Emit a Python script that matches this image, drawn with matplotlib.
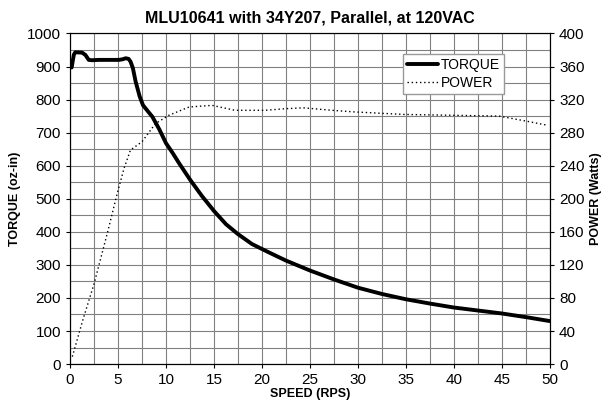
import matplotlib.pyplot as plt
from matplotlib.ticker import MultipleLocator

plt.rcParams['font.family'] = ['Liberation Sans', 'DejaVu Sans']

# torque curve (oz-in) vs speed (rps)
torque_speed = [0.17, 0.3, 0.4, 0.55, 1.26, 1.6, 1.95, 2.3, 3.0, 4.0, 5.1, 5.5, 5.8,
                6.1, 6.3, 6.55, 6.83, 7.25, 7.6, 8.1, 8.58, 9.3, 10.0, 10.7, 11.35,
                12.5, 13.75, 15.0, 16.25, 17.5, 18.96, 20.7, 22.5, 25.0, 27.5,
                30.0, 32.5, 35.0, 37.5, 40.0, 42.5, 45.0, 47.5, 50.0]
torque = [897, 920, 936, 943, 942, 935, 920, 919, 920, 920, 920, 922, 925,
          923, 915, 895, 855, 810, 783, 765, 748, 710, 668, 638, 608,
          558, 508, 463, 423, 393, 363, 338, 313, 283, 256,
          231, 212, 196, 183, 171, 162, 153, 142, 130]

# power curve (Watts)
power_speed = [0.24, 1.3, 2.5, 3.9, 4.93, 5.63, 6.3, 7.5, 8.9, 10.3, 12.4, 14.8,
               17.2, 20.3, 22.5, 24.3, 27.3, 29.7, 34.8, 39.8, 44.7, 47.5, 49.7]
power = [9, 52, 97, 159, 207, 237, 259, 269, 291, 301, 311, 313,
         307, 307, 309, 310, 307, 305, 302, 301, 300, 294, 289]

fig = plt.figure(figsize=(6.09, 4.18), dpi=100)
ax = fig.add_axes([0.115, 0.129, 0.788, 0.791])
ax2 = ax.twinx()

ax.plot(torque_speed, torque, color='black', lw=2.8, label='TORQUE', zorder=3,
        solid_joinstyle='round', solid_capstyle='round')
ax2.plot(power_speed, power, color='black', lw=1.0, ls=(0, (1, 2)), label='POWER')

ax.set_xlim(0, 50)
ax.set_ylim(0, 1000)
ax2.set_ylim(0, 400)
ax.xaxis.set_major_locator(MultipleLocator(5))
ax.xaxis.set_minor_locator(MultipleLocator(2.5))
ax.yaxis.set_major_locator(MultipleLocator(100))
ax.yaxis.set_minor_locator(MultipleLocator(50))
ax2.yaxis.set_major_locator(MultipleLocator(40))

ax.grid(which='both', color='#808080', lw=0.8)
ax.set_axisbelow(True)
ax.tick_params(which='minor', length=0)
ax.tick_params(labelsize=11, length=3)
ax2.tick_params(labelsize=11, length=3)

ax.set_xlabel('SPEED (RPS)', fontsize=9, fontweight='bold', labelpad=1)
ax.set_ylabel('TORQUE (oz-in)', fontsize=9, fontweight='bold')
ax2.set_ylabel('POWER (Watts)', fontsize=9, fontweight='bold')
ax.set_title('MLU10641 with 34Y207, Parallel, at 120VAC', fontsize=11.5,
             fontweight='bold', pad=8)

h1, l1 = ax.get_legend_handles_labels()
h2, l2 = ax2.get_legend_handles_labels()
leg = ax2.legend(h1 + h2, l1 + l2, loc='upper left', bbox_to_anchor=(0.68, 0.96),
                 fontsize=10, fancybox=False, framealpha=1, edgecolor='#999999',
                 handlelength=2.2, handletextpad=0.2, borderpad=0.3, labelspacing=0.3)

fig.savefig('out.png', dpi=100)
